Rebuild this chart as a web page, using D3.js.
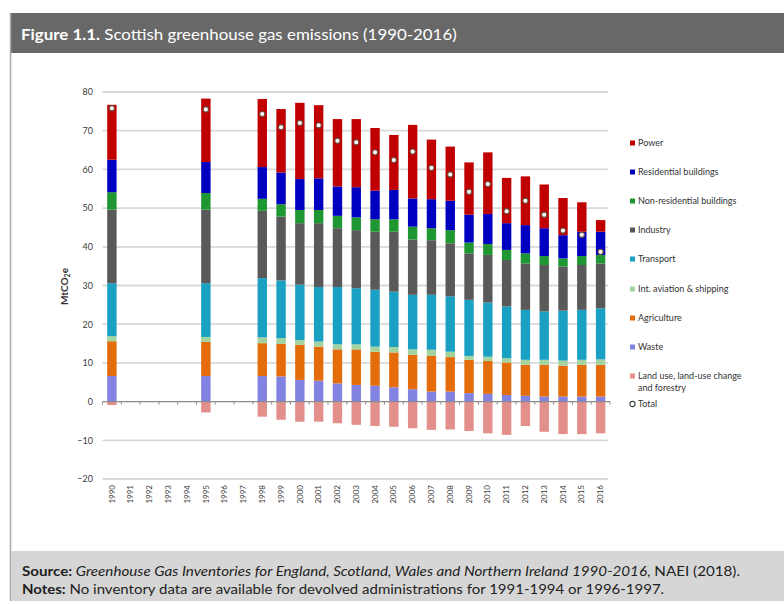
<!DOCTYPE html>
<html>
<head>
<meta charset="utf-8">
<script src="https://cdn.jsdelivr.net/npm/d3@7"></script>
<style>
  html, body { margin: 0; padding: 0; background: #fff; }
  svg { display: block; }
</style>
</head>
<body>
<svg id="chart" width="784" height="604"></svg>
<script>
// Scottish greenhouse gas emissions by source, MtCO2e (no data for 1991-94, 1996-97)
const years = ["1990","1991","1992","1993","1994","1995","1996","1997","1998","1999","2000",
  "2001","2002","2003","2004","2005","2006","2007","2008","2009","2010","2011","2012",
  "2013","2014","2015","2016"];

const power          = [14.2,null,null,null,null,16.4,null,null,17.6,16.4,19.7,18.9,17.4,17.6,16.2,14.2,19.0,15.4,14.0,13.5,15.9,11.7,12.6,11.3,9.6,7.6,3.0];
const residential    = [8.4,null,null,null,null,8.0,null,null,8.2,8.2,8.0,8.2,7.6,7.8,7.4,7.6,7.3,7.5,7.6,7.2,7.8,6.9,7.3,7.2,6.0,6.3,6.0];
const nonResidential = [4.5,null,null,null,null,4.3,null,null,3.1,3.2,3.4,3.4,3.2,3.3,3.2,3.2,3.3,3.1,3.4,2.8,2.8,2.6,2.6,2.3,2.1,2.3,2.2];
const industry       = [19.0,null,null,null,null,19.0,null,null,17.4,16.5,15.9,16.5,15.2,15.0,15.0,15.5,14.3,14.1,13.7,12.0,12.3,12.0,12.0,12.0,11.4,11.6,11.6];
const transport      = [13.7,null,null,null,null,13.9,null,null,15.3,14.9,14.3,14.1,14.8,14.5,14.7,14.3,14.1,14.2,14.3,14.5,14.0,13.4,12.9,12.5,12.9,12.9,13.2];
const aviation       = [1.3,null,null,null,null,1.3,null,null,1.5,1.5,1.2,1.3,1.3,1.3,1.3,1.4,1.4,1.6,1.4,1.0,1.1,1.1,1.3,1.3,1.3,1.3,1.4];
const agriculture    = [9.0,null,null,null,null,8.8,null,null,8.5,8.4,9.1,8.8,8.8,9.2,8.8,9.0,8.9,9.2,8.9,8.6,8.5,8.4,8.0,8.2,8.0,8.2,8.2];
const waste          = [6.6,null,null,null,null,6.6,null,null,6.6,6.5,5.6,5.4,4.7,4.3,4.1,3.7,3.2,2.6,2.6,2.2,2.0,1.7,1.5,1.3,1.3,1.3,1.3];
const landUse        = [-0.9,null,null,null,null,-2.8,null,null,-3.9,-4.7,-5.2,-5.2,-5.6,-6.0,-6.3,-6.5,-6.9,-7.3,-7.2,-7.6,-8.2,-8.6,-6.3,-7.8,-8.4,-8.4,-8.2];

const yTicks = [-20,-10,0,10,20,30,40,50,60,70,80];

// series listed top of legend first; stacked bottom-up in reverse
const series = [
  { key: "power",          label: "Power",                      values: power,          color: "#c00000" },
  { key: "residential",    label: "Residential buildings",      values: residential,    color: "#0000c0" },
  { key: "nonResidential", label: "Non-residential buildings",  values: nonResidential, color: "#1e9632" },
  { key: "industry",       label: "Industry",                   values: industry,       color: "#595959" },
  { key: "transport",      label: "Transport",                  values: transport,      color: "#1aa0c2" },
  { key: "aviation",       label: "Int. aviation & shipping",   values: aviation,       color: "#a3d4a0" },
  { key: "agriculture",    label: "Agriculture",                values: agriculture,    color: "#e46c0a" },
  { key: "waste",          label: "Waste",                      values: waste,          color: "#8282e2" },
  { key: "landUse",        label: ["Land use, land-use change", "and forestry"], values: landUse, color: "#e3908c" }
];

const svg = d3.select("#chart");
const FONT = "Lato, 'Open Sans', sans-serif";

// ---- frame: title bar, left rule, footer band ----
svg.append("rect").attr("x", 10).attr("y", 13).attr("width", 774).attr("height", 40).attr("fill", "#686868");
svg.append("line").attr("x1", 10.5).attr("x2", 10.5).attr("y1", 13).attr("y2", 601)
  .attr("stroke", "#a8a8a8").attr("stroke-width", 1.5);
svg.append("rect").attr("x", 11).attr("y", 551).attr("width", 773).attr("height", 50).attr("fill", "#d6d6d6");

function fitWidth(sel, target) {
  const w = sel.node().getComputedTextLength();
  const x = +sel.attr("x");
  if (w > 0) sel.attr("transform", `translate(${x},0) scale(${target / w},1) translate(${-x},0)`);
}

const title = svg.append("text").attr("x", 21).attr("y", 40)
  .attr("font-family", FONT).attr("font-size", 16).attr("fill", "#ffffff");
title.append("tspan").attr("font-weight", "bold").text("Figure 1.1.");
title.append("tspan").text(" Scottish greenhouse gas emissions (1990-2016)");
fitWidth(title, 436);

const src = svg.append("text").attr("x", 22).attr("y", 576)
  .attr("font-family", FONT).attr("font-size", 13).attr("fill", "#1e1e1e");
src.append("tspan").attr("font-weight", "bold").text("Source:");
src.append("tspan").attr("font-style", "italic").text(" Greenhouse Gas Inventories for England, Scotland, Wales and Northern Ireland 1990-2016");
src.append("tspan").text(", NAEI (2018).");
fitWidth(src, 719);

const notes = svg.append("text").attr("x", 22).attr("y", 594)
  .attr("font-family", FONT).attr("font-size", 13).attr("fill", "#1e1e1e");
notes.append("tspan").attr("font-weight", "bold").text("Notes:");
notes.append("tspan").text(" No inventory data are available for devolved administrations for 1991-1994 or 1996-1997.");
fitWidth(notes, 643);

// ---- scales ----
const x = d3.scaleBand().domain(years).range([102.5, 610]).paddingInner(0.5).paddingOuter(0.25);
const y = d3.scaleLinear().domain([-20, 80]).range([479, 92]);

// gridlines
const plot = svg.append("g");
plot.selectAll("line.grid").data(yTicks.filter(d => d !== 0)).join("line")
  .attr("class", "grid")
  .attr("x1", 102.5).attr("x2", 608)
  .attr("y1", d => y(d)).attr("y2", d => y(d))
  .attr("stroke", "#d9d9d9").attr("stroke-width", 1.8);

// y-axis labels
const yAxis = d3.axisLeft(y).tickValues(yTicks).tickSize(0).tickPadding(0);
svg.append("g").attr("transform", "translate(93,0)").call(yAxis)
  .call(g => g.select(".domain").remove())
  .call(g => g.selectAll("text").attr("font-family", FONT).attr("font-size", 9).attr("fill", "#404040"));

// y-axis title
const yTitle = svg.append("text")
  .attr("transform", `translate(68,${y(30) + 1}) rotate(-90)`)
  .attr("text-anchor", "middle").attr("font-family", FONT).attr("font-size", 10)
  .attr("font-weight", "bold").attr("fill", "#333");
yTitle.append("tspan").text("MtCO");
yTitle.append("tspan").attr("font-size", 7).attr("dy", 2).text("2");
yTitle.append("tspan").attr("dy", -2).text("e");

// ---- stacked bars ----
const rows = years.map((yr, i) => {
  const r = { year: yr };
  series.forEach(s => { r[s.key] = s.values[i]; });
  return r;
}).filter(r => r.power !== null);

const stackKeys = series.map(s => s.key).reverse();
const stacked = d3.stack().keys(stackKeys).offset(d3.stackOffsetDiverging)(rows);
const colorOf = Object.fromEntries(series.map(s => [s.key, s.color]));

plot.selectAll("g.layer").data(stacked).join("g")
  .attr("class", "layer").attr("fill", d => colorOf[d.key])
  .selectAll("rect").data(d => d).join("rect")
  .attr("x", d => x(d.data.year))
  .attr("width", x.bandwidth())
  .attr("y", d => y(Math.max(d[0], d[1])))
  .attr("height", d => Math.abs(y(d[0]) - y(d[1])));

// x axis along zero with ticks between categories
const xAxisG = svg.append("g");
xAxisG.append("line").attr("x1", 102.5).attr("x2", 610).attr("y1", y(0)).attr("y2", y(0))
  .attr("stroke", "#8c8c8c").attr("stroke-width", 1.2);
const boundaries = years.map(yr => x(yr) - x.step() * x.paddingInner() / 2).concat([610]);
xAxisG.selectAll("line.tick").data(boundaries).join("line")
  .attr("class", "tick")
  .attr("x1", d => d).attr("x2", d => d)
  .attr("y1", y(0)).attr("y2", y(0) + 3)
  .attr("stroke", "#8c8c8c").attr("stroke-width", 1);

// rotated year labels
svg.append("g").selectAll("text").data(years).join("text")
  .attr("transform", d => `translate(${x(d) + x.bandwidth() / 2},485) rotate(-90)`)
  .attr("text-anchor", "end").attr("dy", "0.33em")
  .attr("font-family", FONT).attr("font-size", 8).attr("fill", "#404040")
  .text(d => d);

// total markers (net of land use)
const totals = rows.map(r => ({ year: r.year, total: d3.sum(series, s => r[s.key]) }));
plot.selectAll("circle.total").data(totals).join("circle")
  .attr("class", "total")
  .attr("cx", d => x(d.year) + x.bandwidth() / 2)
  .attr("cy", d => y(d.total))
  .attr("r", 2.6)
  .attr("fill", "#ffffff").attr("stroke", "#6e4a3a").attr("stroke-width", 1.1);

// ---- legend ----
const legendY = [143, 172, 201, 230, 259, 289, 318, 347, 376];
const legend = svg.append("g").attr("font-family", FONT).attr("font-size", 9).attr("fill", "#333");
series.forEach((s, i) => {
  const g = legend.append("g").attr("transform", `translate(630,${legendY[i]})`);
  g.append("rect").attr("x", 0).attr("y", -2.5).attr("width", 5).attr("height", 5).attr("fill", s.color);
  const t = g.append("text").attr("x", 8).attr("dy", "0.35em");
  const lines = Array.isArray(s.label) ? s.label : [s.label];
  lines.forEach((ln, k) => t.append("tspan").attr("x", 8).attr("dy", k === 0 ? "0.35em" : "1.35em").text(ln));
});
const tg = legend.append("g").attr("transform", "translate(630,404)");
tg.append("circle").attr("cx", 2.5).attr("cy", 0).attr("r", 2.6)
  .attr("fill", "#fff").attr("stroke", "#444").attr("stroke-width", 1.1);
tg.append("text").attr("x", 8).attr("dy", "0.35em").text("Total");
</script>
</body>
</html>
